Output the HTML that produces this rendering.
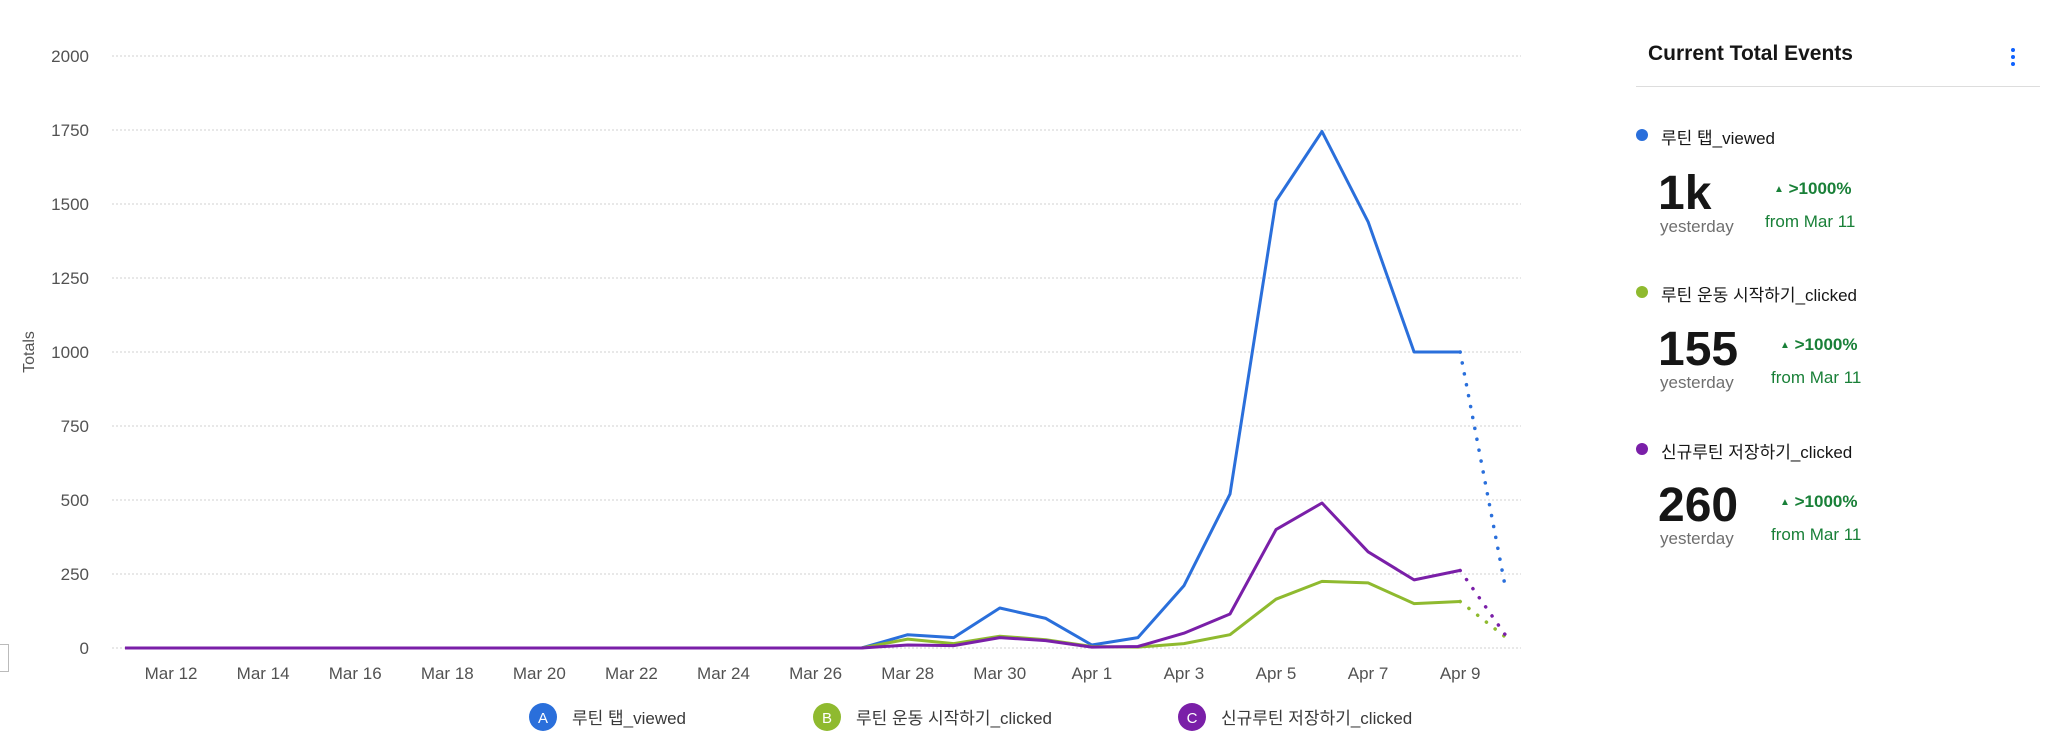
<!DOCTYPE html>
<html><head><meta charset="utf-8"><style>
body{margin:0;width:2048px;height:748px;background:#fff;overflow:hidden;font-family:"Liberation Sans","Noto Sans CJK KR",sans-serif;}
.t{position:absolute;white-space:nowrap;}
</style></head><body>
<svg id="chart" width="1560" height="748" style="position:absolute;left:0;top:0"></svg>
<div style="position:absolute;left:-2px;top:644px;width:9px;height:26px;border:1px solid #bbb;"></div>

<div>
<div class="t" style="left:1648px;top:42px;font-size:21px;font-weight:bold;color:#161616;">Current Total Events</div>
<div class="t" style="left:2006px;top:44px;width:14px;height:26px;">
 <div style="position:absolute;left:5px;top:4px;width:4px;height:4px;border-radius:2px;background:#0f62fe"></div>
 <div style="position:absolute;left:5px;top:11px;width:4px;height:4px;border-radius:2px;background:#0f62fe"></div>
 <div style="position:absolute;left:5px;top:18px;width:4px;height:4px;border-radius:2px;background:#0f62fe"></div>
</div>
<div style="position:absolute;left:1636px;top:86px;width:404px;height:1px;background:#ddd"></div>

<div>
<div style="position:absolute;left:1636px;top:129px;width:12px;height:12px;border-radius:6px;background:#2a6fdb"></div>
<div class="t" style="left:1661px;top:124px;font-size:17px;color:#161616;">루틴 탭_viewed</div>
<div class="t" style="left:1658px;top:166px;font-size:48px;font-weight:bold;color:#161616;">1k</div>
<div class="t" style="left:1660px;top:217px;font-size:17px;color:#6f6f6f;">yesterday</div>
<div class="t" style="left:1774px;top:179px;font-size:17px;font-weight:bold;color:#198038;"><span style="font-size:10px;vertical-align:2px">▲</span> &gt;1000%</div>
<div class="t" style="left:1765px;top:212px;font-size:17px;color:#198038;">from Mar 11</div>
</div>

<div>
<div style="position:absolute;left:1636px;top:286px;width:12px;height:12px;border-radius:6px;background:#8fba2f"></div>
<div class="t" style="left:1661px;top:281px;font-size:17px;color:#161616;">루틴 운동 시작하기_clicked</div>
<div class="t" style="left:1658px;top:322px;font-size:48px;font-weight:bold;color:#161616;">155</div>
<div class="t" style="left:1660px;top:373px;font-size:17px;color:#6f6f6f;">yesterday</div>
<div class="t" style="left:1780px;top:335px;font-size:17px;font-weight:bold;color:#198038;"><span style="font-size:10px;vertical-align:2px">▲</span> &gt;1000%</div>
<div class="t" style="left:1771px;top:368px;font-size:17px;color:#198038;">from Mar 11</div>
</div>

<div>
<div style="position:absolute;left:1636px;top:443px;width:12px;height:12px;border-radius:6px;background:#7a1fa8"></div>
<div class="t" style="left:1661px;top:438px;font-size:17px;color:#161616;">신규루틴 저장하기_clicked</div>
<div class="t" style="left:1658px;top:478px;font-size:48px;font-weight:bold;color:#161616;">260</div>
<div class="t" style="left:1660px;top:529px;font-size:17px;color:#6f6f6f;">yesterday</div>
<div class="t" style="left:1780px;top:492px;font-size:17px;font-weight:bold;color:#198038;"><span style="font-size:10px;vertical-align:2px">▲</span> &gt;1000%</div>
<div class="t" style="left:1771px;top:525px;font-size:17px;color:#198038;">from Mar 11</div>
</div>
</div>

<script>
const yTicks = [0, 250, 500, 750, 1000, 1250, 1500, 1750, 2000];
const xTickLabels = ["Mar 12","Mar 14","Mar 16","Mar 18","Mar 20","Mar 22","Mar 24","Mar 26","Mar 28","Mar 30","Apr 1","Apr 3","Apr 5","Apr 7","Apr 9"];
const xTickDays = [1,3,5,7,9,11,13,15,17,19,21,23,25,27,29];
const seriesNames = ["루틴 탭_viewed","루틴 운동 시작하기_clicked","신규루틴 저장하기_clicked"];
const seriesLetters = ["A","B","C"];
// day index 0 = Mar 11 ... 30 = Apr 10 (last point partial/dotted)
const seriesA = [0,0,0,0,0,0,0,0,0,0,0,0,0,0,0,0,0,45,35,135,100,10,35,210,520,1510,1745,1440,1000,1000,190];
const seriesB = [0,0,0,0,0,0,0,0,0,0,0,0,0,0,0,0,0,30,15,40,28,5,3,15,45,165,225,220,150,157,35];
const seriesC = [0,0,0,0,0,0,0,0,0,0,0,0,0,0,0,0,0,10,8,35,25,3,5,50,115,400,490,325,230,262,40];
const colors = ["#2a6fdb","#8fba2f","#7a1fa8"];

const svg = document.getElementById('chart');
const NS = "http://www.w3.org/2000/svg";
const X0 = 125, DX = 46.04, Y0 = 648, YMAX = 2000, YTOP = 56;
const xScale = d => X0 + d * DX;
const yScale = v => Y0 - (v / YMAX) * (Y0 - YTOP);
function mk(tag, attrs){const e=document.createElementNS(NS,tag);for(const k in attrs)e.setAttribute(k,attrs[k]);svg.appendChild(e);return e;}

yTicks.forEach(v=>{
  const g = mk('line',{x1:112,x2:1521,y1:yScale(v),y2:yScale(v),stroke:'#d0d0d0','stroke-width':1,'stroke-dasharray':'2,2'});
  
  
  const t = mk('text',{x:89,y:yScale(v)+6,'text-anchor':'end','font-size':17,fill:'#525252','font-family':'Liberation Sans, sans-serif'});
  t.textContent = v;
  
  
});
const yt = mk('text',{x:0,y:0,transform:'translate(34,352) rotate(-90)','text-anchor':'middle','font-size':16,fill:'#525252','font-family':'Liberation Sans, sans-serif'});
yt.textContent='Totals';



xTickLabels.forEach((lab,i)=>{
  const t = mk('text',{x:xScale(xTickDays[i]),y:679,'text-anchor':'middle','font-size':17,fill:'#525252','font-family':'Liberation Sans, sans-serif'});
  t.textContent = lab;
  
  
});

[seriesA,seriesB,seriesC].forEach((s,si)=>{
  const n = s.length;
  let d='';
  for(let i=0;i<n-1;i++) d += (i?'L':'M')+xScale(i).toFixed(1)+','+yScale(s[i]).toFixed(1);
  const p = mk('path',{d:d,fill:'none',stroke:colors[si],'stroke-width':3,'stroke-linejoin':'round'});
  
  
  const q = mk('line',{x1:xScale(n-2),y1:yScale(s[n-2]),x2:xScale(n-1),y2:yScale(s[n-1]),stroke:colors[si],'stroke-width':3.5,'stroke-dasharray':'0.1,11','stroke-linecap':'round'});
  
  
});

const legX = [543, 827, 1192];
seriesNames.forEach((nm,i)=>{
  const c = mk('circle',{cx:legX[i],cy:717,r:14,fill:colors[i]});
  
  
  const l = mk('text',{x:legX[i],y:723,'text-anchor':'middle','font-size':15,fill:'#fff','font-family':'Liberation Sans, sans-serif'});
  l.textContent = seriesLetters[i];
  
  
  const t = mk('text',{x:legX[i]+29,y:724,'font-size':17,fill:'#393939','font-family':'Liberation Sans, Noto Sans CJK KR, sans-serif'});
  t.textContent = nm;
  
  
});
</script>
</body></html>
